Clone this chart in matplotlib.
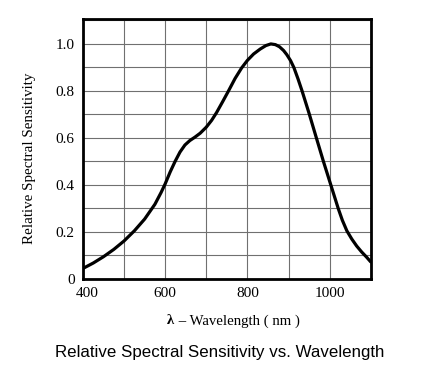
import matplotlib
matplotlib.use("Agg")
import matplotlib.pyplot as plt
import matplotlib.transforms as mtransforms
import numpy as np

wavelength = [400, 425, 450, 475, 500, 525, 550, 575, 590, 600, 612, 624, 636, 648, 660,
              672, 685, 700, 713, 725, 740, 754, 770, 786, 800, 815, 831, 845, 857, 868,
              878, 888, 896, 905, 913, 923, 933, 950, 967, 985, 1003, 1021, 1031, 1042,
              1054, 1066, 1078, 1090, 1100]
sensitivity = [0.045, 0.068, 0.095, 0.126, 0.162, 0.205, 0.255, 0.318, 0.368, 0.405, 0.455,
               0.500, 0.540, 0.570, 0.589, 0.603, 0.620, 0.646, 0.675, 0.708, 0.755, 0.800,
               0.853, 0.898, 0.930, 0.957, 0.978, 0.993, 1.000, 0.997, 0.988, 0.972, 0.954,
               0.929, 0.900, 0.852, 0.800, 0.705, 0.605, 0.500, 0.400, 0.300, 0.250, 0.205,
               0.170, 0.140, 0.115, 0.093, 0.073]
xticks = [400, 600, 800, 1000]
yticks = [0, 0.2, 0.4, 0.6, 0.8, 1.0]
ytick_labels = ["0", "0.2", "0.4", "0.6", "0.8", "1.0"]

serif = "Liberation Serif"
sans = "Liberation Sans"

fig = plt.figure(figsize=(4.32, 3.81), dpi=100)
ax = fig.add_axes([83/432, 1-279/381, (370.7-83)/432, (279-19)/381])

ax.plot(wavelength, sensitivity, color="black", lw=2.3, solid_capstyle="round",
        solid_joinstyle="round", zorder=3)
ax.set_xlim(400, 1100)
ax.set_ylim(0, 1.106)
xgrid = np.arange(400, 1101, 100)
ax.set_xticks(xgrid)
ax.set_yticks(np.arange(0, 1.101, 0.1))
ax.grid(True, color="#707070", lw=0.8)
ax.set_xticklabels([str(v) if v in xticks else "" for v in xgrid],
                   fontfamily=serif, fontsize=11)
ylabs = []
for v in np.arange(0, 1.101, 0.1):
    lab = ""
    for t, s in zip(yticks, ytick_labels):
        if abs(v - t) < 1e-6:
            lab = s
    ylabs.append(lab)
ax.set_yticklabels(ylabs, fontfamily=serif, fontsize=11)
ax.tick_params(length=0, pad=6)
lbl0 = ax.get_xticklabels()[0]
lbl0.set_transform(lbl0.get_transform() + mtransforms.ScaledTranslation(4.5/100, 0, fig.dpi_scale_trans))
for sp in ax.spines.values():
    sp.set_linewidth(2.0)
    sp.set_color("black")

fig.text(30/432, 1-158/381, "Relative Spectral Sensitivity", rotation=90,
         ha="center", va="center", fontfamily=serif, fontsize=10.8)

lam = fig.text(167/432, 1-321/381, "λ", ha="left", va="center",
               fontfamily=serif, fontweight="bold", fontsize=10.6)
fig.canvas.draw()
bb = lam.get_window_extent()
fig.text((bb.x1 + 1)/432, 1-321/381, " – Wavelength ( nm )", ha="left", va="center",
         fontfamily=serif, fontsize=10.6)

fig.text(219.5/432, 1-353/381, "Relative Spectral Sensitivity vs. Wavelength",
         ha="center", va="center", fontfamily=sans, fontsize=12.2)

fig.savefig("out.png", dpi=100)
